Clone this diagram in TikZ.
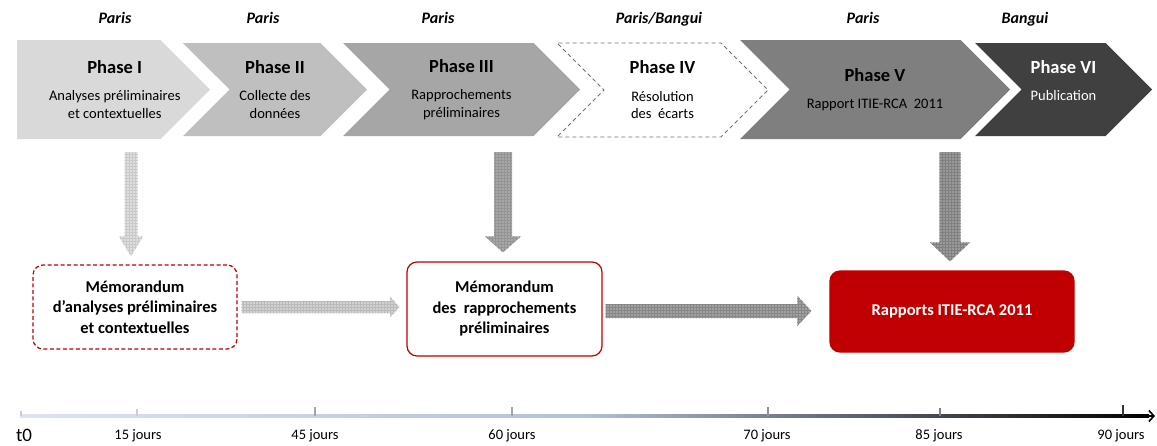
\documentclass[tikz,border=0pt]{standalone}
\usepackage{fontspec}
\setmainfont{Carlito}
\usepackage{xcolor}
\usetikzlibrary{shapes.symbols,arrows.meta,positioning,calc,patterns}

\definecolor{phaseone}{HTML}{D9D9D9}
\definecolor{phasetwo}{HTML}{BFBFBF}
\definecolor{phasethree}{HTML}{A6A6A6}
\definecolor{phasefive}{HTML}{7F7F7F}
\definecolor{phasesix}{HTML}{404040}
\definecolor{rcared}{HTML}{C00000}
\definecolor{lineleft}{HTML}{DDE4EF}
\definecolor{linemid}{HTML}{B4C0D4}

\newcommand{\phasetitle}{\fontsize{18.5}{22}\selectfont\bfseries}

% fat arrow pointing down / right, filled with a grid
\newcommand{\fatdown}[6]{%
  \path[#1] let \p1=(#2), \p2=(#3) in
    (\x1-#4,\y1) -- (\x1+#4,\y1) -- (\x1+#4,\y2+#6) -- (\x1+#5,\y2+#6)
    -- (\x1,\y2) -- (\x1-#5,\y2+#6) -- (\x1-#4,\y2+#6) -- cycle;}
\newcommand{\fatright}[6]{%
  \path[#1] let \p1=(#2), \p2=(#3) in
    (\x1,\y1+#4) -- (\x2-#6,\y1+#4) -- (\x2-#6,\y1+#5) -- (\x2,\y1)
    -- (\x2-#6,\y1-#5) -- (\x2-#6,\y1-#4) -- (\x1,\y1-#4) -- cycle;}

\begin{document}
\begin{tikzpicture}[
    x=1pt, y=-1pt,
    phasetext/.style={align=center, inner sep=0pt, font=\fontsize{14.5}{17.5}\selectfont},
    phase/.style={shape=signal, signal to=east, signal pointer angle=90, phasetext},
    notched/.style={signal from=west},
    loc/.style={anchor=base, font=\fontsize{16}{19}\selectfont\bfseries\itshape},
    memo/.style={rectangle, rounded corners=10pt, draw=rcared, line width=1.2pt, align=center,
        font=\fontsize{16.5}{20.5}\selectfont\bfseries},
    day/.style={anchor=base, inner sep=1pt, font=\fontsize{14.5}{17}\selectfont},
    tick/.style={line width=2pt},
    gridfill/.style 2 args={fill=#1, postaction={pattern=grid, pattern color=#2}}
]
\useasboundingbox (0,0) rectangle (1157,445);

% phases
\node[phase, fill=phaseone, minimum width=193pt, minimum height=99pt,
    label={[phasetext, xshift=26pt]center:{{\phasetitle Phase I}\\[10pt]Analyses préliminaires\\et contextuelles}}]
    (ph1) at (88.75,89.5) {};
\node[phase, notched, fill=phasetwo, minimum width=184pt, minimum height=93pt] (ph2) at (275,89.5)
    {{\phasetitle Phase II}\\[10pt]Collecte des\\données};
\node[phase, notched, fill=phasethree, minimum width=237pt, minimum height=93pt] (ph3) at (461.5,89.5)
    {{\phasetitle Phase III}\\[10pt]Rapprochements\\préliminaires};
\node[phase, notched, draw=black!55, line width=0.8pt, dash pattern=on 4pt off 3pt, fill=white,
    minimum width=211pt, minimum height=94pt] (ph4) at (662.5,90)
    {{\phasetitle Phase IV}\\[10pt]Résolution\\des~~écarts};
\node[phase, notched, fill=phasefive, minimum width=270pt, minimum height=99pt] (ph5) at (875,89.5)
    {{\phasetitle Phase V}\\[10pt]Rapport ITIE-RCA~~2011};
\node[phase, notched, fill=phasesix, text=white, minimum width=177pt, minimum height=93pt] (ph6) at (1063.5,89.5)
    {{\phasetitle Phase VI}\\[10pt]Publication\\\mbox{}};

% places
\node[loc] (locA) at (115,23) {Paris};
\node[loc] (locB) at (263,23) {Paris};
\node[loc] (locC) at (438,23) {Paris};
\node[loc] (locD) at (659,23) {Paris/Bangui};
\node[loc] (locE) at (863,23) {Paris};
\node[loc] (locF) at (1025,23) {Bangui};

% deliverables
\node[memo, dash pattern=on 4pt off 2.5pt, minimum width=204pt, minimum height=84pt] (memoA) at (135,307)
    {Mémorandum\\d’analyses préliminaires\\et contextuelles};
\node[memo, minimum width=195pt, minimum height=94pt] (memoB) at (504.5,309)
    {Mémorandum\\des~~rapprochements\\préliminaires};
\node[memo, fill=rcared, text=white, minimum width=244pt, minimum height=81pt] (memoC) at (952,311.5)
    {Rapports ITIE-RCA 2011};

% big arrows
\fatdown{gridfill={black!13}{black!21}}{$(memoA.north |- ph1.south)+(-4,13)$}{$(memoA.north)+(0,-8)$}{6.5pt}{12pt}{20pt}
\fatdown{gridfill={black!34}{black!42}}{$(memoB.north |- ph3.south)+(-1.5,16)$}{$(memoB.north)+(0,-9)$}{9pt}{18pt}{16pt}
\fatdown{gridfill={black!40}{black!50}}{$(memoC.north |- ph5.south)+(-2,13)$}{$(memoC.north)+(0,-9)$}{10.5pt}{20pt}{19pt}
\fatright{gridfill={black!18}{black!27}}{$(memoA.east)+(4,0)$}{$(memoB.west)+(-7,0)$}{6pt}{10pt}{9pt}
\fatright{gridfill={black!37}{black!47}}{$(memoB.east)+(3,2)$}{$(memoC.west)+(-18,0)$}{7pt}{15pt}{14pt}

% time line
\coordinate (t0) at (20,416);
\coordinate (tend) at (1155,416);
\shade[left color=lineleft, right color=black, middle color=linemid] ($(t0)+(0,-1.1)$) rectangle ($(tend)+(-6,1.1)$);
\draw[line width=1.6pt, -{Straight Barb[length=5pt,width=11pt]}] ($(tend)+(-20,0)$) -- (tend);
\foreach \tx/\th/\tc in {21/5/black!20, 137/7/black!20, 315/9/black!35, 512/9/black!35,
    768/9/black!42, 940/8/black!50, 1123/11/black!80}
  \draw[tick, \tc] (\tx,416) -- ++(0,-\th);

\node[day, font=\fontsize{19}{22}\selectfont] (lbl0) at (24,441) {t0};
\foreach \tx/\lab [count=\i] in {138/15, 315/45, 512/60, 767/70, 939/85, 1121/90}
  \node[day] (day\i) at (\tx,439) {\lab\ jours};

\end{tikzpicture}
\end{document}
